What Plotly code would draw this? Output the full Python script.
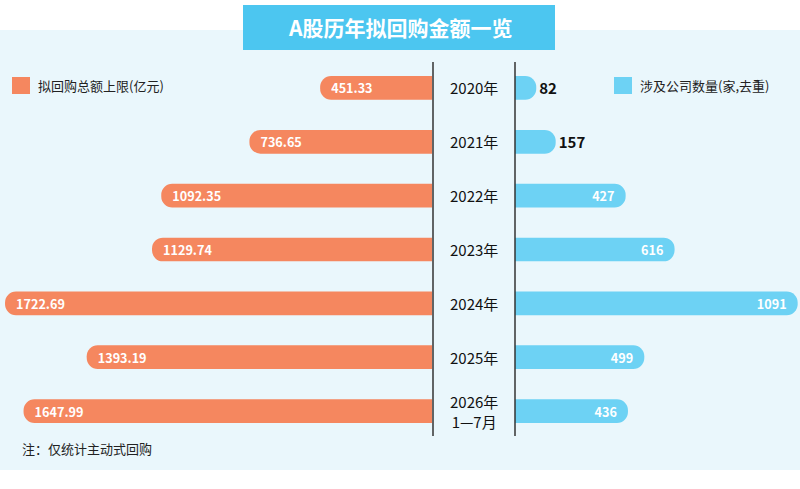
import plotly.graph_objects as go

years = ["2020年", "2021年", "2022年", "2023年", "2024年", "2025年", "2026年<br>1—7月"]
amount = [451.33, 736.65, 1092.35, 1129.74, 1722.69, 1393.19, 1647.99]
companies = [82, 157, 427, 616, 1091, 499, 436]
amount_labels = ["451.33", "736.65", "1092.35", "1129.74", "1722.69", "1393.19", "1647.99"]

FONT = "Noto Sans CJK SC"
ycat = list(range(len(years)))
T, B = 61, 51
PH = 489 - T - B

def py(p):
    return (489 - B - p) / PH

def px(p):
    return p / 800

fig = go.Figure()
fig.add_trace(go.Bar(
    x=amount, y=ycat, orientation="h", xaxis="x", yaxis="y",
    marker=dict(color="#F5875F", cornerradius="50%", line=dict(width=0)),
    width=0.44, text=amount_labels, textposition="inside", insidetextanchor="end",
    constraintext="none",
    textfont=dict(color="white", size=15, family=FONT, weight="bold"), cliponaxis=False,
    showlegend=False, hoverinfo="skip"))
fig.add_trace(go.Bar(
    x=companies, y=ycat, orientation="h", xaxis="x2", yaxis="y",
    marker=dict(color="#6DD2F4", cornerradius="50%", line=dict(width=0)),
    width=0.44, text=[str(c) for c in companies], constraintext="none",
    textposition=["outside", "outside"] + ["inside"] * 5, insidetextanchor="end",
    insidetextfont=dict(color="white", size=15, family=FONT, weight="bold"),
    outsidetextfont=dict(color="#111", size=15, family=FONT, weight="bold"),
    cliponaxis=False, showlegend=False, hoverinfo="skip"))

shapes = [
    dict(type="rect", xref="paper", yref="paper", x0=0, x1=1, y0=py(470), y1=py(30),
         fillcolor="#EAF7FC", line=dict(width=0), layer="below"),
    dict(type="rect", xref="paper", yref="paper", x0=px(243), x1=px(555), y0=py(50), y1=py(5),
         fillcolor="#4CC6F0", line=dict(width=0), layer="below"),
    dict(type="line", xref="paper", yref="paper", x0=px(433), x1=px(433), y0=py(436), y1=py(62),
         line=dict(color="#333", width=1.5)),
    dict(type="line", xref="paper", yref="paper", x0=px(515), x1=px(515), y0=py(436), y1=py(62),
         line=dict(color="#333", width=1.5)),
    dict(type="rect", xref="paper", yref="paper", x0=px(12), x1=px(30), y0=py(94), y1=py(77),
         fillcolor="#F5875F", line=dict(width=0)),
    dict(type="rect", xref="paper", yref="paper", x0=px(614), x1=px(632), y0=py(94), y1=py(77),
         fillcolor="#6DD2F4", line=dict(width=0)),
]
annotations = [
    dict(text="A股历年拟回购金额一览", xref="paper", yref="paper", x=0.5, y=py(27),
         yanchor="middle", showarrow=False, font=dict(color="white", size=21, family=FONT, weight="bold")),
    dict(text="拟回购总额上限(亿元)", xref="paper", yref="paper", x=px(36), y=py(85),
         xanchor="left", yanchor="middle", showarrow=False, font=dict(color="#222", size=13, family=FONT)),
    dict(text="涉及公司数量(家,去重)", xref="paper", yref="paper", x=px(638), y=py(85),
         xanchor="left", yanchor="middle", showarrow=False, font=dict(color="#222", size=13, family=FONT)),
    dict(text="注：仅统计主动式回购", xref="paper", yref="paper", x=px(20), y=py(448),
         xanchor="left", yanchor="middle", showarrow=False, font=dict(color="#222", size=13, family=FONT)),
]
for i, yr in enumerate(years):
    annotations.append(dict(text=yr, xref="paper", yref="y", x=px(474), y=i, showarrow=False,
                            yanchor="middle", font=dict(color="#111", size=15, family=FONT)))

fig.update_layout(
    width=800, height=489, margin=dict(l=0, r=0, t=T, b=B),
    paper_bgcolor="white", plot_bgcolor="rgba(0,0,0,0)",
    xaxis=dict(domain=[0, 432/800], range=[1743, 0], visible=False),
    xaxis2=dict(domain=[515/800, 1], range=[0, 1100], visible=False),
    yaxis=dict(range=[6.5, -0.5], visible=False),
    barmode="overlay", shapes=shapes, annotations=annotations,
)
fig.write_html("out.html", config={"displayModeBar": False})
with open("out.html", encoding="utf-8") as f:
    html = f.read()
html = html.replace("<head>", "<head><style>html,body{margin:0;padding:0;overflow:hidden}</style>", 1)
with open("out.html", "w", encoding="utf-8") as f:
    f.write(html)
